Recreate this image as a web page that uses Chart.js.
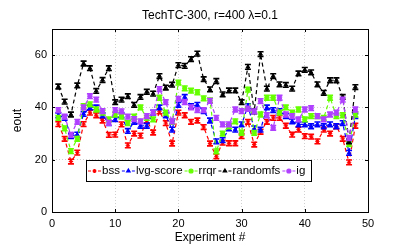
<!DOCTYPE html>
<html>
<head>
<meta charset="utf-8">
<script src="https://cdn.jsdelivr.net/npm/chart.js@4/dist/chart.umd.min.js"></script>
<style>
  html, body { margin: 0; padding: 0; background: #fff; }
</style>
</head>
<body>
<canvas id="chart" width="407" height="245"></canvas>
<script>
var experiments = [];
for (var n = 1; n <= 48; n++) experiments.push(n);

var bss = [33.6, 28, 19.3, 22.7, 33.6, 38, 37, 35, 29.5, 29.6, 33.5, 25.5, 30, 29.2, 35, 30.4,
  38.5, 34, 26.2, 38, 37, 34.5, 35, 32.5, 26.2, 21.3, 26.5, 26.3, 26.3, 29, 34.5, 25.8,
  30.7, 34.5, 36, 36, 33, 29.6, 31.5, 29, 28.8, 27, 31.5, 30, 32.8, 28, 19, 33];
var lvgScore = [37, 36, 29, 29.6, 37.5, 40, 40, 37, 34, 35.5, 37, 31, 34.5, 33, 33, 38,
  40, 37, 31.5, 41, 44, 40.5, 41, 38.6, 35, 27, 27.5, 32, 31.5, 33.5, 40.5, 32,
  31.5, 40, 39, 38.6, 36.7, 34.7, 33.5, 33.5, 32.8, 33.5, 32.8, 33.5, 32.8, 34, 22.6, 36.7];
var rrqr = [36, 32, 23.3, 28, 40.5, 41.2, 39.2, 38, 35.4, 37.3, 36.5, 34, 36.5, 40, 36, 35.4,
  43.7, 38, 34.5, 49.5, 47.3, 46.4, 45.8, 43.5, 42.7, 23.2, 30, 32.8, 34.7, 30.3, 46.8, 30.3,
  37.3, 43.7, 43.7, 38, 40, 38, 39.2, 35.4, 36.7, 36.7, 36, 43.7, 36.7, 37, 26, 37.3];
var randomfs = [48, 42.2, 37.3, 48.4, 56.8, 55, 46.3, 50.5, 55, 42, 43, 44.3, 41, 44, 46, 45.3,
  52, 47.6, 48.7, 56.2, 55.9, 58.5, 60.6, 50.8, 46.9, 50.1, 45, 46.5, 46.5, 42, 55.5, 38.5,
  60.4, 47.2, 52, 48.8, 48.6, 47.2, 53, 54.4, 53.4, 48.8, 45.6, 50.4, 50.4, 44, 27, 47.8];
var ig = [39, 36.5, 29.5, 34.5, 40, 44.3, 43, 38.6, 34.1, 39, 38.5, 36.5, 35.5, 34.7, 36.7, 38,
  47, 42, 34.7, 43.3, 42, 40, 39, 39, 42.5, 36, 33.5, 33.5, 39.2, 38.6, 39.5, 38.5,
  42.4, 37, 32.2, 43.7, 37.3, 36.7, 35.4, 39.2, 39.7, 36.7, 35.4, 37.3, 38, 43, 28.3, 39.2];
var errHalf = 0.9;   // half height of the error bars, in eout units

var xTicks = [0, 10, 20, 30, 40, 50];
var yTicks = [0, 20, 40, 60];

function pts(vals) {
  return experiments.map(function (e, i) { return { x: e, y: vals[i] }; });
}

function series(label, vals, color, style, order) {
  return {
    label: label, data: pts(vals), borderColor: color, backgroundColor: color,
    borderWidth: 1.2, borderDash: [4, 3], pointStyle: style, pointRadius: 2.2,
    pointBorderWidth: 1, fill: false, tension: 0, order: order
  };
}

// error bars drawn right after each line, so later series sit on top
var errorBars = {
  id: 'errorBars',
  afterDatasetDraw: function (chart, args) {
    var ctx = chart.ctx, ys = chart.scales.y;
    var ds = chart.data.datasets[args.index];
    ctx.save();
    ctx.strokeStyle = ds.borderColor;
    ctx.lineWidth = 1.6;
    args.meta.data.forEach(function (p, i) {
      var v = ds.data[i].y;
      var t = ys.getPixelForValue(v + errHalf), b = ys.getPixelForValue(v - errHalf);
      ctx.beginPath();
      ctx.moveTo(p.x, t); ctx.lineTo(p.x, b);
      ctx.moveTo(p.x - 3, t); ctx.lineTo(p.x + 3, t);
      ctx.moveTo(p.x - 3, b); ctx.lineTo(p.x + 3, b);
      ctx.stroke();
    });
    ctx.restore();
  }
};

// box round the axes, inward ticks, and the legend inside the plot
var frame = {
  id: 'frame',
  afterDraw: function (chart) {
    var ctx = chart.ctx, a = chart.chartArea, xs = chart.scales.x, ys = chart.scales.y;
    ctx.save();
    ctx.strokeStyle = '#000';
    ctx.lineWidth = 1;
    ctx.strokeRect(Math.round(a.left) + 0.5, Math.round(a.top) + 0.5,
      Math.round(a.right - a.left), Math.round(a.bottom - a.top));
    ctx.beginPath();
    xTicks.forEach(function (t) {
      var px = Math.round(xs.getPixelForValue(t)) + 0.5;
      ctx.moveTo(px, a.bottom); ctx.lineTo(px, a.bottom - 3);
      ctx.moveTo(px, a.top); ctx.lineTo(px, a.top + 3);
    });
    yTicks.forEach(function (t) {
      var py = Math.round(ys.getPixelForValue(t)) + 0.5;
      ctx.moveTo(a.left, py); ctx.lineTo(a.left + 3, py);
      ctx.moveTo(a.right, py); ctx.lineTo(a.right - 3, py);
    });
    ctx.stroke();

    // legend
    var bx = 86, by = 160, bw = 225, bh = 21;
    ctx.fillStyle = '#fff';
    ctx.fillRect(bx, by, bw, bh);
    ctx.strokeRect(bx + 0.5, by + 0.5, bw, bh);
    ctx.font = '11.5px "Liberation Sans", Arial, sans-serif';
    ctx.textBaseline = 'middle';
    var x = bx + 2, cy = by + bh / 2 + 0.5;
    var items = [0, 1, 2, 3, 4].map(function (i) { return chart.data.datasets[i]; });
    items.forEach(function (ds) {
      ctx.strokeStyle = ds.borderColor;
      ctx.lineWidth = 1.2;
      ctx.setLineDash([3, 2]);
      ctx.beginPath(); ctx.moveTo(x, cy); ctx.lineTo(x + 13, cy); ctx.stroke();
      ctx.setLineDash([]);
      ctx.fillStyle = ds.borderColor;
      Chart.helpers.drawPoint(ctx, { pointStyle: ds.pointStyle, radius: 2, borderWidth: 1 }, x + 6.5, cy);
      ctx.fillStyle = '#000';
      ctx.fillText(ds.label, x + 14, cy);
      x += 14 + ctx.measureText(ds.label).width + 2;
    });
    ctx.restore();
  }
};

var tickFont = { family: '"Liberation Sans", Arial, sans-serif', size: 11 };
var labelFont = { family: '"Liberation Sans", Arial, sans-serif', size: 12 };

new Chart(document.getElementById('chart'), {
  type: 'line',
  data: {
    datasets: [
      series('bss', bss, '#ff0000', 'star', 5),
      series('lvg-score', lvgScore, '#0000ff', 'triangle', 4),
      series('rrqr', rrqr, '#66ff00', 'circle', 3),
      series('randomfs', randomfs, '#000000', 'triangle', 2),
      series('ig', ig, '#b040ff', 'circle', 1)
    ]
  },
  options: {
    responsive: false,
    animation: false,
    layout: { padding: { left: 0, right: 39, top: 0, bottom: 0 } },
    plugins: {
      legend: { display: false },
      tooltip: { enabled: false },
      title: {
        display: true, text: 'TechTC-300, r=400 λ=0.1', color: '#000', fullSize: false,
        font: { family: '"Liberation Sans", Arial, sans-serif', size: 12, weight: 'normal' },
        padding: { top: 8, bottom: 6.6 }
      }
    },
    scales: {
      x: {
        type: 'linear', min: 0, max: 50,
        afterFit: function (s) { s.height = 33; },
        afterBuildTicks: function (s) { s.ticks = xTicks.map(function (v) { return { value: v }; }); },
        ticks: { color: '#000', font: tickFont, padding: 5, maxRotation: 0 },
        grid: { color: '#d0d0d0', drawTicks: false },
        border: { color: '#000', dash: [1, 2] },
        title: { display: true, text: 'Experiment #', color: '#000', font: labelFont, padding: { top: 0, bottom: 0 } }
      },
      y: {
        min: 0, max: 70,
        afterFit: function (s) { s.width = 52; },
        afterBuildTicks: function (s) { s.ticks = yTicks.map(function (v) { return { value: v }; }); },
        ticks: { color: '#000', font: tickFont, padding: 5 },
        grid: { color: '#d0d0d0', drawTicks: false },
        border: { color: '#000', dash: [1, 2] },
        title: { display: true, text: 'eout', color: '#000', font: labelFont, padding: { top: 10, bottom: 0 } }
      }
    }
  },
  plugins: [errorBars, frame]
});
</script>
</body>
</html>
